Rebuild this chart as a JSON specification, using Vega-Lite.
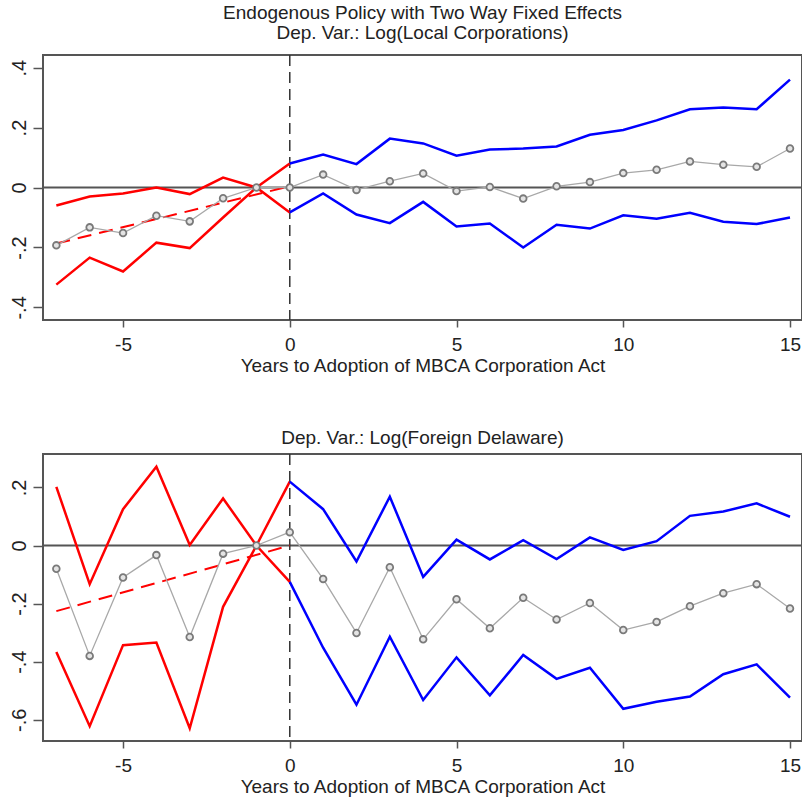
{
  "$schema": "https://vega.github.io/schema/vega-lite/v6.json",
  "background": "white",
  "padding": {"left": 7, "top": 3, "right": 1, "bottom": 2},
  "spacing": 52,
  "config": {
    "font": "Liberation Sans",
    "view": {"stroke": "#555555", "strokeWidth": 2},
    "axis": {"grid": false, "domain": false, "tickColor": "#555555", "tickWidth": 1.5, "labelFont": "Liberation Sans", "labelFontSize": 19, "labelColor": "#222222", "titleFont": "Liberation Sans", "titleFontSize": 19, "titleFontWeight": "normal", "titleColor": "#222222"},
    "title": {"font": "Liberation Sans", "fontSize": 19, "fontWeight": "normal", "color": "#222222", "anchor": "middle"}
  },
  "datasets": {
    "top": [
      {"x": -7, "est": -0.193, "pre_hi": -0.06, "pre_lo": -0.324, "trend": -0.187},
      {"x": -6, "est": -0.133, "pre_hi": -0.03, "pre_lo": -0.234},
      {"x": -5, "est": -0.152, "pre_hi": -0.02, "pre_lo": -0.28},
      {"x": -4, "est": -0.094, "pre_hi": 0.0, "pre_lo": -0.184},
      {"x": -3, "est": -0.113, "pre_hi": -0.022, "pre_lo": -0.202},
      {"x": -2, "est": -0.036, "pre_hi": 0.033, "pre_lo": -0.1},
      {"x": -1, "est": 0.0, "pre_hi": 0.0, "pre_lo": 0.0},
      {"x": 0, "est": 0.0, "pre_hi": -0.083, "pre_lo": 0.08, "post_hi": 0.08, "post_lo": -0.083, "trend": 0.004},
      {"x": 1, "est": 0.043, "post_hi": 0.11, "post_lo": -0.02},
      {"x": 2, "est": -0.008, "post_hi": 0.078, "post_lo": -0.09},
      {"x": 3, "est": 0.021, "post_hi": 0.163, "post_lo": -0.119},
      {"x": 4, "est": 0.047, "post_hi": 0.147, "post_lo": -0.048},
      {"x": 5, "est": -0.012, "post_hi": 0.106, "post_lo": -0.13},
      {"x": 6, "est": 0.002, "post_hi": 0.127, "post_lo": -0.12},
      {"x": 7, "est": -0.037, "post_hi": 0.13, "post_lo": -0.2},
      {"x": 8, "est": 0.004, "post_hi": 0.137, "post_lo": -0.124},
      {"x": 9, "est": 0.018, "post_hi": 0.176, "post_lo": -0.137},
      {"x": 10, "est": 0.048, "post_hi": 0.192, "post_lo": -0.093},
      {"x": 11, "est": 0.059, "post_hi": 0.224, "post_lo": -0.104},
      {"x": 12, "est": 0.087, "post_hi": 0.261, "post_lo": -0.084},
      {"x": 13, "est": 0.076, "post_hi": 0.267, "post_lo": -0.114},
      {"x": 14, "est": 0.069, "post_hi": 0.261, "post_lo": -0.122},
      {"x": 15, "est": 0.13, "post_hi": 0.36, "post_lo": -0.1}
    ],
    "bot": [
      {"x": -7, "est": -0.08, "pre_hi": 0.202, "pre_lo": -0.367, "trend": -0.226},
      {"x": -6, "est": -0.38, "pre_hi": -0.133, "pre_lo": -0.622},
      {"x": -5, "est": -0.11, "pre_hi": 0.125, "pre_lo": -0.343},
      {"x": -4, "est": -0.033, "pre_hi": 0.271, "pre_lo": -0.334},
      {"x": -3, "est": -0.315, "pre_hi": 0.002, "pre_lo": -0.629},
      {"x": -2, "est": -0.028, "pre_hi": 0.162, "pre_lo": -0.211},
      {"x": -1, "est": 0.0, "pre_hi": 0.0, "pre_lo": 0.0},
      {"x": 0, "est": 0.046, "pre_hi": -0.125, "pre_lo": 0.22, "post_hi": 0.22, "post_lo": -0.125, "trend": 0.0},
      {"x": 1, "est": -0.115, "post_hi": 0.125, "post_lo": -0.352},
      {"x": 2, "est": -0.301, "post_hi": -0.055, "post_lo": -0.548},
      {"x": 3, "est": -0.075, "post_hi": 0.168, "post_lo": -0.314},
      {"x": 4, "est": -0.323, "post_hi": -0.108, "post_lo": -0.532},
      {"x": 5, "est": -0.185, "post_hi": 0.02, "post_lo": -0.385},
      {"x": 6, "est": -0.285, "post_hi": -0.048, "post_lo": -0.516},
      {"x": 7, "est": -0.18, "post_hi": 0.018, "post_lo": -0.377},
      {"x": 8, "est": -0.255, "post_hi": -0.047, "post_lo": -0.459},
      {"x": 9, "est": -0.198, "post_hi": 0.028, "post_lo": -0.421},
      {"x": 10, "est": -0.291, "post_hi": -0.015, "post_lo": -0.562},
      {"x": 11, "est": -0.263, "post_hi": 0.015, "post_lo": -0.538},
      {"x": 12, "est": -0.209, "post_hi": 0.102, "post_lo": -0.52},
      {"x": 13, "est": -0.164, "post_hi": 0.117, "post_lo": -0.443},
      {"x": 14, "est": -0.133, "post_hi": 0.145, "post_lo": -0.409},
      {"x": 15, "est": -0.217, "post_hi": 0.099, "post_lo": -0.524}
    ],
    "ref": [{"v": 0}]
  },
  "vconcat": [
    {
      "width": 759,
      "height": 265,
      "title": {"text": ["Endogenous Policy with Two Way Fixed Effects", "Dep. Var.: Log(Local Corporations)"], "offset": 11, "lineHeight": 20},
      "layer": [
        {
          "data": {"name": "ref"},
          "mark": {"type": "rule", "color": "#555555", "strokeWidth": 2},
          "encoding": {"y": {"field": "v", "type": "quantitative", "scale": {"domain": [-0.442, 0.442], "nice": false, "zero": false}, "axis": {"values": [-0.4, -0.2, 0, 0.2, 0.4], "tickSize": 10, "labelAngle": -90, "labelAlign": "center", "labelBaseline": "bottom", "labelPadding": 4, "labelFontSize": 20, "title": null, "labelExpr": "datum.value == 0 ? '0' : (datum.value < 0 ? '-' : '') + '.' + round(abs(datum.value) * 10)"}}}
        },
        {
          "data": {"name": "ref"},
          "mark": {"type": "rule", "color": "#333333", "strokeWidth": 1.5, "strokeDash": [11, 6]},
          "encoding": {"x": {"field": "v", "type": "quantitative", "scale": {"domain": [-7.4, 15.36], "nice": false, "zero": false}, "axis": {"values": [-5, 0, 5, 10, 15], "tickSize": 7, "labelPadding": 8, "title": "Years to Adoption of MBCA Corporation Act", "titlePadding": 2, "labelExpr": "datum.value < 0 ? '-' + abs(datum.value) : '' + datum.value"}}}
        },
        {
          "data": {"name": "top"},
          "transform": [{"fold": ["pre_hi", "pre_lo"], "as": ["k", "v"]}, {"filter": "isValid(datum.v)"}],
          "mark": {"type": "line", "color": "#ff0000", "strokeWidth": 2.5},
          "encoding": {"x": {"field": "x", "type": "quantitative"}, "y": {"field": "v", "type": "quantitative"}, "detail": {"field": "k"}}
        },
        {
          "data": {"name": "top"},
          "transform": [{"fold": ["post_hi", "post_lo"], "as": ["k", "v"]}, {"filter": "isValid(datum.v)"}],
          "mark": {"type": "line", "color": "#0000ff", "strokeWidth": 2.5},
          "encoding": {"x": {"field": "x", "type": "quantitative"}, "y": {"field": "v", "type": "quantitative"}, "detail": {"field": "k"}}
        },
        {
          "data": {"name": "top"},
          "transform": [{"filter": "isValid(datum.trend)"}],
          "mark": {"type": "line", "color": "#ff0000", "strokeWidth": 2, "strokeDash": [14, 8]},
          "encoding": {"x": {"field": "x", "type": "quantitative"}, "y": {"field": "trend", "type": "quantitative"}}
        },
        {
          "data": {"name": "top"},
          "mark": {"type": "line", "color": "#a8a8a8", "strokeWidth": 1.3},
          "encoding": {"x": {"field": "x", "type": "quantitative"}, "y": {"field": "est", "type": "quantitative"}}
        },
        {
          "data": {"name": "top"},
          "mark": {"type": "point", "shape": "circle", "filled": true, "fill": "#e4e4e4", "stroke": "#7a7a7a", "strokeWidth": 1.8, "size": 45, "opacity": 1},
          "encoding": {"x": {"field": "x", "type": "quantitative"}, "y": {"field": "est", "type": "quantitative"}}
        }
      ]
    },
    {
      "width": 759,
      "height": 287,
      "title": {"text": "Dep. Var.: Log(Foreign Delaware)", "offset": 5},
      "layer": [
        {
          "data": {"name": "ref"},
          "mark": {"type": "rule", "color": "#555555", "strokeWidth": 2},
          "encoding": {"y": {"field": "v", "type": "quantitative", "scale": {"domain": [-0.673, 0.315], "nice": false, "zero": false}, "axis": {"values": [-0.6, -0.4, -0.2, 0, 0.2], "tickSize": 10, "labelAngle": -90, "labelAlign": "center", "labelBaseline": "bottom", "labelPadding": 4, "labelFontSize": 20, "title": null, "labelExpr": "datum.value == 0 ? '0' : (datum.value < 0 ? '-' : '') + '.' + round(abs(datum.value) * 10)"}}}
        },
        {
          "data": {"name": "ref"},
          "mark": {"type": "rule", "color": "#333333", "strokeWidth": 1.5, "strokeDash": [11, 6]},
          "encoding": {"x": {"field": "v", "type": "quantitative", "scale": {"domain": [-7.4, 15.36], "nice": false, "zero": false}, "axis": {"values": [-5, 0, 5, 10, 15], "tickSize": 7, "labelPadding": 8, "title": "Years to Adoption of MBCA Corporation Act", "titlePadding": 2, "labelExpr": "datum.value < 0 ? '-' + abs(datum.value) : '' + datum.value"}}}
        },
        {
          "data": {"name": "bot"},
          "transform": [{"fold": ["pre_hi", "pre_lo"], "as": ["k", "v"]}, {"filter": "isValid(datum.v)"}],
          "mark": {"type": "line", "color": "#ff0000", "strokeWidth": 2.5},
          "encoding": {"x": {"field": "x", "type": "quantitative"}, "y": {"field": "v", "type": "quantitative"}, "detail": {"field": "k"}}
        },
        {
          "data": {"name": "bot"},
          "transform": [{"fold": ["post_hi", "post_lo"], "as": ["k", "v"]}, {"filter": "isValid(datum.v)"}],
          "mark": {"type": "line", "color": "#0000ff", "strokeWidth": 2.5},
          "encoding": {"x": {"field": "x", "type": "quantitative"}, "y": {"field": "v", "type": "quantitative"}, "detail": {"field": "k"}}
        },
        {
          "data": {"name": "bot"},
          "transform": [{"filter": "isValid(datum.trend)"}],
          "mark": {"type": "line", "color": "#ff0000", "strokeWidth": 2, "strokeDash": [14, 8]},
          "encoding": {"x": {"field": "x", "type": "quantitative"}, "y": {"field": "trend", "type": "quantitative"}}
        },
        {
          "data": {"name": "bot"},
          "mark": {"type": "line", "color": "#a8a8a8", "strokeWidth": 1.3},
          "encoding": {"x": {"field": "x", "type": "quantitative"}, "y": {"field": "est", "type": "quantitative"}}
        },
        {
          "data": {"name": "bot"},
          "mark": {"type": "point", "shape": "circle", "filled": true, "fill": "#e4e4e4", "stroke": "#7a7a7a", "strokeWidth": 1.8, "size": 45, "opacity": 1},
          "encoding": {"x": {"field": "x", "type": "quantitative"}, "y": {"field": "est", "type": "quantitative"}}
        }
      ]
    }
  ]
}
